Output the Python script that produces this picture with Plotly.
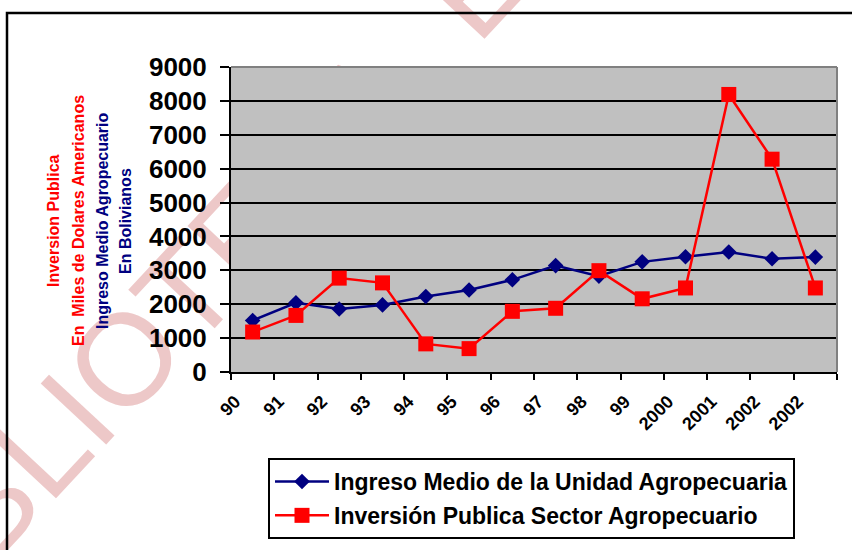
import plotly.graph_objects as go

# ---- data ----
year_labels = ["90", "91", "92", "93", "94", "95", "96", "97", "98", "99",
               "2000", "2001", "2002", "2002"]
ingreso_medio = [1520, 2040, 1860, 1980, 2230, 2420, 2720, 3140, 2830, 3250,
                 3400, 3540, 3340, 3390]
inversion_publica = [1180, 1670, 2770, 2630, 830, 690, 1790, 1880, 2990, 2160,
                     2480, 8190, 6280, 2480]
y_ticks = [0, 1000, 2000, 3000, 4000, 5000, 6000, 7000, 8000, 9000]
series_names = ["Ingreso Medio de la Unidad Agropecuaria",
                "Inversión Publica Sector Agropecuario"]
title_lines = ["Inversion Publica", "En\u00a0 Miles de Dolares Americanos",
               "Ingreso Medio Agropecuario", "En Bolivianos"]
watermark_text = "BIBLIOTECA\u00a0 E. E."

FONT = "Liberation Sans, Arial, sans-serif"
W, H = 852, 550
L, R, T, B = 231, 15, 67, 178
PW, PH = W - L - R, H - T - B


def px(xpix):
    return (xpix - L) / PW


def py(ypix):
    return (H - B - ypix) / PH


xs = list(range(len(year_labels)))

fig = go.Figure()
fig.add_trace(go.Scatter(
    x=xs, y=ingreso_medio, name=series_names[0], mode="lines+markers",
    line=dict(color="#000080", width=2.5),
    marker=dict(symbol="diamond", size=12, color="#000080"),
    legendgroup="a"))
fig.add_trace(go.Scatter(
    x=xs, y=inversion_publica, name=series_names[1], mode="lines+markers",
    line=dict(color="#FF0000", width=2.5),
    marker=dict(symbol="square", size=15, color="#FF0000"),
    legendgroup="b"))

wm_x, wm_y = 246, 211
shapes = [
    # watermark (behind the chart)
    dict(type="rect", xref="paper", yref="paper",
         x0=px(wm_x) - 0.005, x1=px(wm_x) + 0.005,
         y0=py(wm_y) - 0.005, y1=py(wm_y) + 0.005,
         line=dict(width=0), fillcolor="rgba(0,0,0,0)", layer="below",
         label=dict(text=watermark_text, textangle=-47,
                    textposition="middle center",
                    font=dict(size=130, color="#EDC8C8", family=FONT,
                              weight="normal"))),
    # plot area fill
    dict(type="rect", xref="paper", yref="paper", x0=0, x1=1, y0=0, y1=1,
         line=dict(width=0), fillcolor="#C0C0C0", layer="below"),
    # outer frame
    dict(type="rect", xref="paper", yref="paper",
         x0=px(7), x1=px(880), y0=py(13), y1=py(600),
         line=dict(color="black", width=2.5), fillcolor="rgba(0,0,0,0)",
         layer="below"),
    # gray top and right border of plot area
    dict(type="line", xref="paper", yref="paper", x0=0, x1=1, y0=1, y1=1,
         line=dict(color="#808080", width=2), layer="above"),
    dict(type="line", xref="paper", yref="paper", x0=1, x1=1, y0=0, y1=1,
         line=dict(color="#808080", width=2), layer="above"),
]

title_x = [54, 79, 103, 126]
title_colors = ["#FF0000", "#FF0000", "#000080", "#000080"]
annotations = []
for txt, xp, col in zip(title_lines, title_x, title_colors):
    annotations.append(dict(
        text=txt, xref="paper", yref="paper", x=px(xp), y=py(221),
        xanchor="center", yanchor="middle", textangle=-90, showarrow=False,
        font=dict(size=16, color=col, family=FONT, weight="bold")))

fig.update_layout(
    width=W, height=H,
    margin=dict(l=L, r=R, t=T, b=B, pad=0, autoexpand=False),
    paper_bgcolor="white",
    plot_bgcolor="rgba(0,0,0,0)",
    font=dict(family=FONT, color="black", weight="bold"),
    shapes=shapes,
    annotations=annotations,
    showlegend=True,
    legend=dict(
        x=px(268), y=py(458), xanchor="left", yanchor="top",
        bgcolor="white", bordercolor="black", borderwidth=2,
        font=dict(size=23, family=FONT, color="black", weight="bold"),
        itemwidth=54, traceorder="grouped", tracegroupgap=1,
    ),
    xaxis=dict(
        range=[-0.5, len(year_labels) - 0.5],
        tickmode="array", tickvals=[i - 0.4 for i in xs], ticktext=year_labels,
        ticks="", tickangle=-45, automargin=False,
        tickfont=dict(size=18, family=FONT, color="black", weight="bold"),
        ticklabelstandoff=10,
        showgrid=False, zeroline=False,
        showline=True, linecolor="black", linewidth=2,
        minor=dict(tickmode="array",
                   tickvals=[i - 0.5 for i in range(len(year_labels) + 1)],
                   ticks="outside", ticklen=6, tickwidth=2,
                   tickcolor="black", showgrid=False),
    ),
    yaxis=dict(
        range=[0, 9000], tickmode="array", tickvals=y_ticks,
        ticks="outside", ticklen=9, tickwidth=2, tickcolor="black",
        tickfont=dict(size=26, family=FONT, color="black", weight="bold"),
        ticklabelstandoff=8, automargin=False,
        showgrid=True, gridcolor="black", gridwidth=2,
        zeroline=False,
        showline=True, linecolor="black", linewidth=2,
    ),
)

fig.write_html("out.html", config={"displayModeBar": False},
               post_script="document.body.style.margin='0px';")
